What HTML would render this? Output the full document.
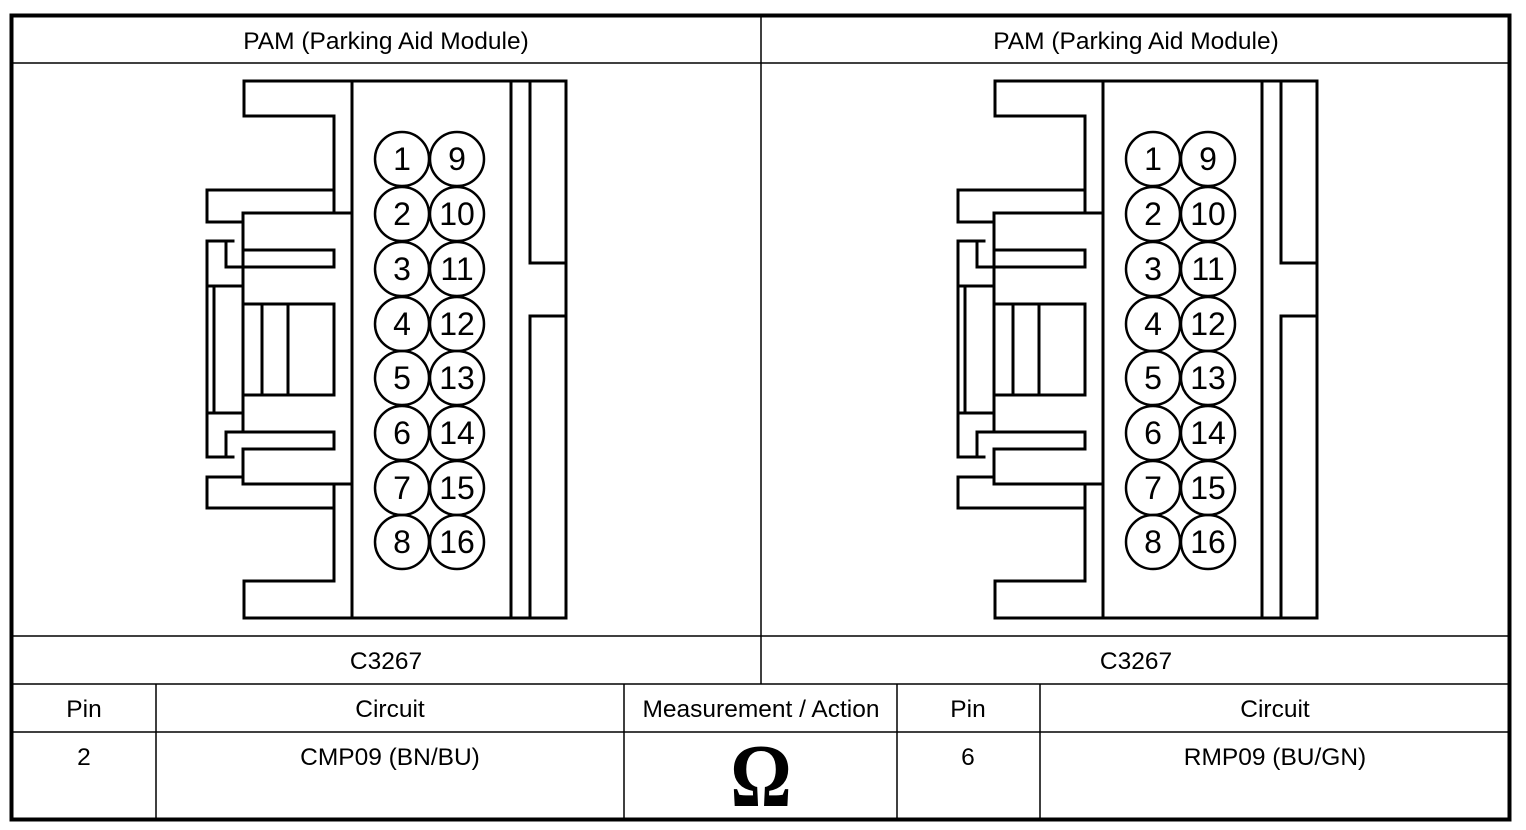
<!DOCTYPE html>
<html><head><meta charset="utf-8"><style>
html,body{margin:0;padding:0;background:#fff;width:1526px;height:830px;overflow:hidden}
svg{display:block}
text{font-family:"Liberation Sans",Arial,sans-serif;fill:#000}
</style></head><body>
<svg width="1526" height="830" viewBox="0 0 1526 830" xmlns="http://www.w3.org/2000/svg">
<defs>
<g id="conn" fill="none" stroke="#000" stroke-width="3" stroke-linejoin="miter" stroke-linecap="square">
  <path d="M244,81 H566 V618 H244 V581 H334 V484 H243 V449"/>
  <path d="M244,81 V116 H334 V213"/>
  <line x1="352" y1="81" x2="352" y2="618"/>
  <line x1="511" y1="81" x2="511" y2="618"/>
  <path d="M530,81 V263 H566"/>
  <path d="M566,316 H530 V618"/>
  <path d="M334,190 H207 V222 H243"/>
  <path d="M243,213 H352"/>
  <path d="M243,213 V250 H334 V267 H226 V241 H207 V457 H226 V432 H334 V449 H243"/>
  <line x1="243" y1="250" x2="243" y2="432"/>
  <line x1="207" y1="241" x2="233" y2="241"/>
  <line x1="207" y1="457" x2="233" y2="457"/>
  <line x1="207" y1="286" x2="243" y2="286"/>
  <line x1="207" y1="413" x2="243" y2="413"/>
  <line x1="214" y1="286" x2="214" y2="413"/>
  <path d="M243,304 H334 V395 H243"/>
  <line x1="262" y1="304" x2="262" y2="395"/>
  <line x1="288" y1="304" x2="288" y2="395"/>
  <path d="M243,484 V449"/>
  <path d="M243,484 H352"/>
  <path d="M243,477 H207 V508 H334 V484"/>
  <g stroke-width="2.5">
   <circle cx="402" cy="159" r="27"/><circle cx="457" cy="159" r="27"/>
   <circle cx="402" cy="214" r="27"/><circle cx="457" cy="214" r="27"/>
   <circle cx="402" cy="269" r="27"/><circle cx="457" cy="269" r="27"/>
   <circle cx="402" cy="324" r="27"/><circle cx="457" cy="324" r="27"/>
   <circle cx="402" cy="378" r="27"/><circle cx="457" cy="378" r="27"/>
   <circle cx="402" cy="433" r="27"/><circle cx="457" cy="433" r="27"/>
   <circle cx="402" cy="488" r="27"/><circle cx="457" cy="488" r="27"/>
   <circle cx="402" cy="542" r="27"/><circle cx="457" cy="542" r="27"/>
  </g>
</g>
<g id="nums" font-size="32" text-anchor="middle">
  <text x="402" y="170">1</text><text x="457" y="170">9</text>
  <text x="402" y="225">2</text><text x="457" y="225">10</text>
  <text x="402" y="280">3</text><text x="457" y="280">11</text>
  <text x="402" y="335">4</text><text x="457" y="335">12</text>
  <text x="402" y="389">5</text><text x="457" y="389">13</text>
  <text x="402" y="444">6</text><text x="457" y="444">14</text>
  <text x="402" y="499">7</text><text x="457" y="499">15</text>
  <text x="402" y="553">8</text><text x="457" y="553">16</text>
</g>
</defs>

<g stroke="#000" stroke-width="1.5" fill="none">
  <line x1="10" y1="63" x2="1511" y2="63"/>
  <line x1="10" y1="636" x2="1511" y2="636"/>
  <line x1="10" y1="684" x2="1511" y2="684"/>
  <line x1="10" y1="732" x2="1511" y2="732"/>
  <line x1="761" y1="15" x2="761" y2="684"/>
  <line x1="156" y1="684" x2="156" y2="820"/>
  <line x1="624" y1="684" x2="624" y2="820"/>
  <line x1="897" y1="684" x2="897" y2="820"/>
  <line x1="1040" y1="684" x2="1040" y2="820"/>
</g>
<rect x="11.5" y="15.5" width="1498" height="804" fill="none" stroke="#000" stroke-width="4"/>

<use href="#conn"/>
<use href="#nums"/>
<use href="#conn" transform="translate(751,0)"/>
<use href="#nums" transform="translate(751,0)"/>

<g font-size="24.5" text-anchor="middle">
  <text x="386" y="49">PAM (Parking Aid Module)</text>
  <text x="1136" y="49">PAM (Parking Aid Module)</text>
  <text x="386" y="669">C3267</text>
  <text x="1136" y="669">C3267</text>
  <text x="84" y="717">Pin</text>
  <text x="390" y="717">Circuit</text>
  <text x="761" y="717">Measurement / Action</text>
  <text x="968" y="717">Pin</text>
  <text x="1275" y="717">Circuit</text>
  <text x="84" y="765">2</text>
  <text x="390" y="765">CMP09 (BN/BU)</text>
  <text x="968" y="765">6</text>
  <text x="1275" y="765">RMP09 (BU/GN)</text>
</g>
<text x="0" y="0" font-size="90" font-weight="bold" text-anchor="middle" transform="translate(761,806) scale(0.85,1)" style="font-family:'Liberation Serif','DejaVu Serif',serif">Ω</text>
</svg>
</body></html>
